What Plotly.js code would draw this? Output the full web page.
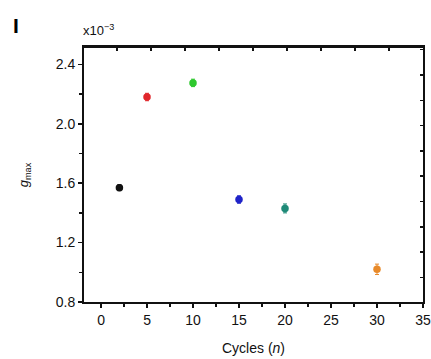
<!DOCTYPE html>
<html>
<head>
<meta charset="utf-8">
<script src="https://cdn.plot.ly/plotly-3.0.1.min.js"></script>
<style>html,body{margin:0;padding:0;background:#fff;}#chart{width:431px;height:359px;}</style>
</head>
<body>
<div id="chart"></div>
<script>
const cycles = [2, 5, 10, 15, 20, 30];
const gmax = [1.57, 2.18, 2.275, 1.49, 1.43, 1.02];
const gmaxErr = [0.02, 0.025, 0.025, 0.025, 0.03, 0.035];
const colors = ['#111111', '#e0262b', '#2ec82e', '#1f23c8', '#1f8a78', '#e88a2a'];
const xTickVals = [0, 5, 10, 15, 20, 25, 30, 35];
const yTickVals = [0.8, 1.2, 1.6, 2.0, 2.4];
const yTickText = ['0.8', '1.2', '1.6', '2.0', '2.4'];

const traces = cycles.map((c, i) => ({
  x: [c], y: [gmax[i]],
  type: 'scatter', mode: 'markers',
  marker: {color: colors[i], size: 7.5, symbol: 'circle'},
  error_y: {type: 'data', array: [gmaxErr[i]], visible: true, color: colors[i], thickness: 1, width: 2},
  showlegend: false, hoverinfo: 'skip'
}));
traces.push({x: [0], y: [0], xaxis: 'x2', yaxis: 'y2', mode: 'markers', marker: {opacity: 0}, showlegend: false, hoverinfo: 'skip'});

const font = {family: 'Liberation Sans, Arial, sans-serif', size: 14, color: '#111'};
const layout = {
  width: 431, height: 359,
  margin: {l: 84, r: 8, t: 48, b: 57},
  paper_bgcolor: '#fff', plot_bgcolor: '#fff',
  font: font,
  xaxis: {
    range: [-1.85, 35], tickvals: xTickVals, ticktext: xTickVals.map(String),
    showgrid: false, zeroline: false, showline: true, linewidth: 2, linecolor: '#111',
    ticks: 'outside', ticklen: 4, tickwidth: 1.5, tickcolor: '#111',
    minor: {dtick: 2.5, tick0: 0, ticks: 'outside', ticklen: 3, tickwidth: 1.5, tickcolor: '#111', showgrid: false},
    tickfont: font,
    title: {text: 'Cycles (<i>n</i>)', font: font, standoff: 16}
  },
  yaxis: {
    range: [0.8, 2.51], tickvals: yTickVals, ticktext: yTickText,
    showgrid: false, zeroline: false, showline: true, linewidth: 2, linecolor: '#111',
    ticks: 'outside', ticklen: 4, tickwidth: 1.5, tickcolor: '#111',
    minor: {dtick: 0.2, tick0: 0.8, ticks: 'outside', ticklen: 3, tickwidth: 1.5, tickcolor: '#111', showgrid: false},
    tickfont: font,
    title: {text: '<i>g</i><sub>max</sub>', font: {family: font.family, size: 13, color: '#111'}, standoff: 24}
  },
  xaxis2: {
    overlaying: 'x', side: 'top', range: [84, 423], tick0: 117, dtick: 34,
    showticklabels: false, showgrid: false, zeroline: false, showline: true, linewidth: 3, linecolor: '#111',
    ticks: 'inside', ticklen: 3, tickwidth: 1.5, tickcolor: '#111'
  },
  yaxis2: {
    overlaying: 'y', side: 'right', range: [302, 48], tick0: 75, dtick: 25.3,
    showticklabels: false, showgrid: false, zeroline: false, showline: true, linewidth: 2, linecolor: '#111',
    ticks: 'inside', ticklen: 3, tickwidth: 1.5, tickcolor: '#111'
  },
  annotations: [
    {text: '<b>I</b>', xref: 'paper', yref: 'paper', x: -0.215, y: 1.09, xanchor: 'left', yanchor: 'middle', showarrow: false, font: {family: font.family, size: 21, color: '#000'}},
    {text: 'x10<sup>−3</sup>', xref: 'paper', yref: 'paper', x: -0.01, y: 1.03, xanchor: 'left', yanchor: 'bottom', showarrow: false, font: {family: font.family, size: 13, color: '#111'}}
  ]
};
Plotly.newPlot('chart', traces, layout, {staticPlot: true, displayModeBar: false});
</script>
</body>
</html>
